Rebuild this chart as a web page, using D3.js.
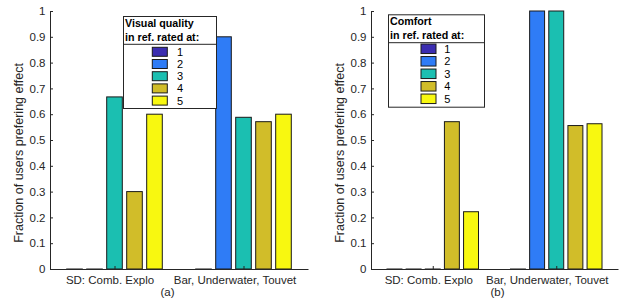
<!DOCTYPE html>
<html>
<head>
<meta charset="utf-8">
<script src="https://cdn.jsdelivr.net/npm/d3@7"></script>
<style>
  html, body { margin: 0; padding: 0; background: #fff; }
  svg { display: block; font-family: "Liberation Sans", Arial, Helvetica, sans-serif; }
</style>
</head>
<body>
<svg id="chart" width="619" height="301"></svg>
<script>
// ---- data ----
const categories = ["SD: Comb. Explo", "Bar, Underwater, Touvet"];
const ratings = ["1", "2", "3", "4", "5"];
const ratingColors = ["#3b2db0", "#2f7cf6", "#1bbfb1", "#d1bd29", "#f8f810"];
// rows: category, columns: rating 1..5
const visualQuality = [
  [0, 0, 0.667, 0.300, 0.600],
  [0, 0.900, 0.588, 0.571, 0.600]
];
const comfort = [
  [0, 0, 0, 0.571, 0.222],
  [0, 1.000, 1.000, 0.556, 0.563]
];
const yTicks = [0, 0.1, 0.2, 0.3, 0.4, 0.5, 0.6, 0.7, 0.8, 0.9, 1];
const yTickLabels = ["0", "0.1", "0.2", "0.3", "0.4", "0.5", "0.6", "0.7", "0.8", "0.9", "1"];
const yLabel = "Fraction of users prefering effect";
const panelTitles = [["Visual quality", "in ref. rated at:"], ["Comfort", "in ref. rated at:"]];
const panelTags = ["(a)", "(b)"];

// ---- layout ----
const svg = d3.select("#chart");
const axisColor = "#262626";

const panels = [
  { values: visualQuality, title: panelTitles[0], tag: panelTags[0],
    x0: 50, x1: 308, yTop: 11, yBot: 269, yLabelX: 19, yLabelY: 153,
    catDx: [-4.5, -8.5], tagX: 167.5,
    legend: { x: 123, y: 16, w: 93, h: 92, t1: 26.7, t2: 40.7, sep: 44.3, row0: 51.8, rowStep: 12.2, swX: 152.3, swW: 15, swH: 9, labX: 180 } },
  { values: comfort, title: panelTitles[1], tag: panelTags[1],
    x0: 371, x1: 618, yTop: 11, yBot: 269, yLabelX: 340, yLabelY: 153,
    catDx: [-4, -9], tagX: 497.5,
    legend: { x: 388, y: 14.3, w: 96, h: 92.4, t1: 25, t2: 38.5, sep: 42.7, row0: 48.8, rowStep: 12.5, swX: 421, swW: 15, swH: 9.5, labX: 447.3 } }
];

const barStep = 0.155;  // in category units
const barWidth = 0.121;

panels.forEach(p => {
  const g = svg.append("g");
  const x = d3.scaleLinear().domain([0.5, categories.length + 0.5]).range([p.x0, p.x1]);
  const y = d3.scaleLinear().domain([0, 1]).range([p.yBot, p.yTop]);

  // bars
  const flat = [];
  p.values.forEach((row, ci) => row.forEach((v, ri) => flat.push({ ci, ri, v })));
  g.selectAll("rect.bar").data(flat).enter().append("rect")
    .attr("class", "bar")
    .attr("x", d => x(d.ci + 1 + (d.ri - 2) * barStep - barWidth / 2))
    .attr("width", d => x(barWidth) - x(0))
    .attr("y", d => y(d.v))
    .attr("height", d => Math.max(y(0) - y(d.v), 0.3))
    .attr("fill", d => ratingColors[d.ri])
    .attr("stroke", "#1a1a1a")
    .attr("stroke-width", 1);

  // y axis
  const yAxis = d3.axisLeft(y).tickValues(yTicks)
    .tickFormat((d, i) => yTickLabels[i])
    .tickSizeInner(-3).tickSizeOuter(0).tickPadding(4.5);
  const ya = g.append("g").attr("transform", `translate(${p.x0},0)`).call(yAxis);
  ya.selectAll("path, line").attr("stroke", axisColor);
  ya.selectAll("text").attr("fill", axisColor).style("font-size", "11.5px")
    .style("font-family", "'Liberation Sans', Arial, sans-serif");

  // x axis
  const xAxis = d3.axisBottom(x).tickValues(categories.map((c, i) => i + 1))
    .tickFormat(() => "").tickSizeInner(-3).tickSizeOuter(0);
  const xa = g.append("g").attr("transform", `translate(0,${p.yBot})`).call(xAxis);
  xa.selectAll("path, line").attr("stroke", axisColor);

  // category labels
  g.selectAll("text.cat").data(categories).enter().append("text")
    .attr("class", "cat")
    .attr("x", (d, i) => x(i + 1) + p.catDx[i])
    .attr("y", 284.3)
    .attr("text-anchor", "middle")
    .attr("fill", axisColor)
    .style("font-size", "11.5px")
    .text(d => d);

  // tag
  g.append("text").attr("x", p.tagX).attr("y", 296)
    .attr("text-anchor", "middle").attr("fill", axisColor)
    .style("font-size", "11.5px").text(p.tag);

  // y label
  g.append("text")
    .attr("transform", `translate(${p.yLabelX + 4},${p.yLabelY}) rotate(-90)`)
    .attr("text-anchor", "middle").attr("fill", axisColor)
    .style("font-size", "12.5px").text(yLabel);

  // legend
  const L = p.legend;
  const lg = g.append("g");
  lg.append("rect").attr("x", L.x + 0.5).attr("y", L.y + 0.5).attr("width", L.w).attr("height", L.h)
    .attr("fill", "#fff").attr("stroke", axisColor).attr("stroke-width", 1);
  lg.append("line").attr("x1", L.x + 0.5).attr("x2", L.x + L.w + 0.5)
    .attr("y1", L.sep).attr("y2", L.sep).attr("stroke", axisColor);
  lg.append("text").attr("x", L.x + 2).attr("y", L.t1).attr("fill", "#000")
    .style("font-size", "10.7px").style("font-weight", "bold").text(p.title[0]);
  lg.append("text").attr("x", L.x + 2).attr("y", L.t2).attr("fill", "#000")
    .style("font-size", "10.7px").style("font-weight", "bold").text(p.title[1]);
  const rows = lg.selectAll("g.row").data(ratings).enter().append("g").attr("class", "row");
  rows.append("rect")
    .attr("x", L.swX).attr("width", L.swW)
    .attr("y", (d, i) => L.row0 + i * L.rowStep - L.swH / 2).attr("height", L.swH)
    .attr("fill", (d, i) => ratingColors[i]).attr("stroke", "#1a1a1a");
  rows.append("text")
    .attr("x", L.labX).attr("y", (d, i) => L.row0 + i * L.rowStep + 4)
    .attr("text-anchor", "middle").attr("fill", "#000")
    .style("font-size", "11px").text(d => d);
});
</script>
</body>
</html>
